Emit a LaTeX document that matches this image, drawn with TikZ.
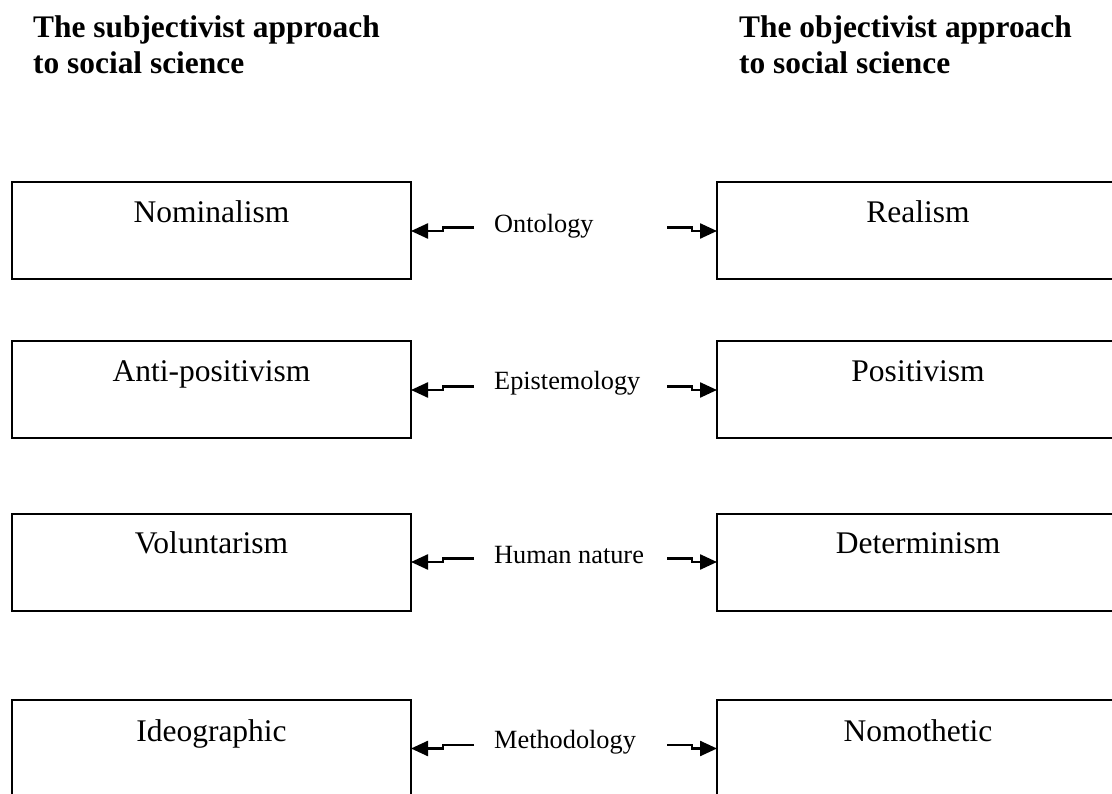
\documentclass[tikz,border=0pt]{standalone}
\usepackage{fontspec}
\setmainfont{Liberation Serif}
\usetikzlibrary{arrows.meta}
\begin{document}
\begin{tikzpicture}[x=1pt,y=-1pt,
  box/.style={draw, line width=2pt, rectangle, inner sep=0pt, outer sep=0pt},
  lbox/.style={box, minimum width=399pt, minimum height=97pt},
  rbox/.style={box, minimum width=402pt, minimum height=97pt},
  boxtext/.style={anchor=base, inner sep=0pt, font=\fontsize{31.5}{36}\selectfont},
  midtext/.style={anchor=base west, inner sep=0pt, font=\fontsize{26.3}{30}\selectfont},
  head/.style={anchor=base west, inner sep=0pt, font=\fontsize{31.4}{36}\selectfont\bfseries},
  conn/.style={line width=2.4pt, -{Triangle[length=17pt,width=15pt]}}
]
\useasboundingbox (0,0) rectangle (1112,794);
\clip (0,0) rectangle (1112,794);
\fill[white] (0,0) rectangle (1112,794);

\node[head] (hl1) at (33,38) {The subjectivist approach};
\node[head] (hl2) at (33,74) {to social science};
\node[head] (hr1) at (739,38) {The objectivist approach};
\node[head] (hr2) at (739,74) {to social science};

% row 1
\node[lbox] (nom) at (211.5,231) {};
\node[rbox] (rea) at (918,231) {};
\node[boxtext] (nomt) at (211.5,223) {Nominalism};
\node[boxtext] (reat) at (918,223) {Realism};
\node[midtext] (ont) at (494,233) {Ontology};
\coordinate (oL) at (474,227.5);
\coordinate (oR) at (667,227.5);
\draw[conn] (oL) -- ++(-31,0) |- (nom.east);
\draw[conn] (oR) -- ++(25,0) |- (rea.west);

% row 2
\node[lbox] (ant) at (211.5,390) {};
\node[rbox] (pos) at (918,390) {};
\node[boxtext] (antt) at (211.5,382) {Anti-positivism};
\node[boxtext] (post) at (918,382) {Positivism};
\node[midtext] (epi) at (494,390) {Epistemology};
\coordinate (eL) at (474,386.5);
\coordinate (eR) at (667,386.5);
\draw[conn] (eL) -- ++(-31,0) |- (ant.east);
\draw[conn] (eR) -- ++(25,0) |- (pos.west);

% row 3
\node[lbox] (vol) at (211.5,562) {};
\node[rbox] (det) at (918,562) {};
\node[boxtext] (volt) at (211.5,553) {Voluntarism};
\node[boxtext] (dett) at (918,553) {Determinism};
\node[midtext] (hum) at (494,563) {Human nature};
\coordinate (hL) at (474,558.5);
\coordinate (hR) at (667,558.5);
\draw[conn] (hL) -- ++(-31,0) |- (vol.east);
\draw[conn] (hR) -- ++(25,0) |- (det.west);

% row 4
\node[lbox] (ide) at (211.5,748.5) {};
\node[rbox] (nomo) at (918,748.5) {};
\node[boxtext] (idet) at (211.5,741) {Ideographic};
\node[boxtext] (nomot) at (918,741) {Nomothetic};
\node[midtext] (met) at (494,748) {Methodology};
\coordinate (mL) at (474,745);
\coordinate (mR) at (667,745);
\draw[conn] (mL) -- ++(-31,0) |- (ide.east);
\draw[conn] (mR) -- ++(25,0) |- (nomo.west);
\end{tikzpicture}
\end{document}
